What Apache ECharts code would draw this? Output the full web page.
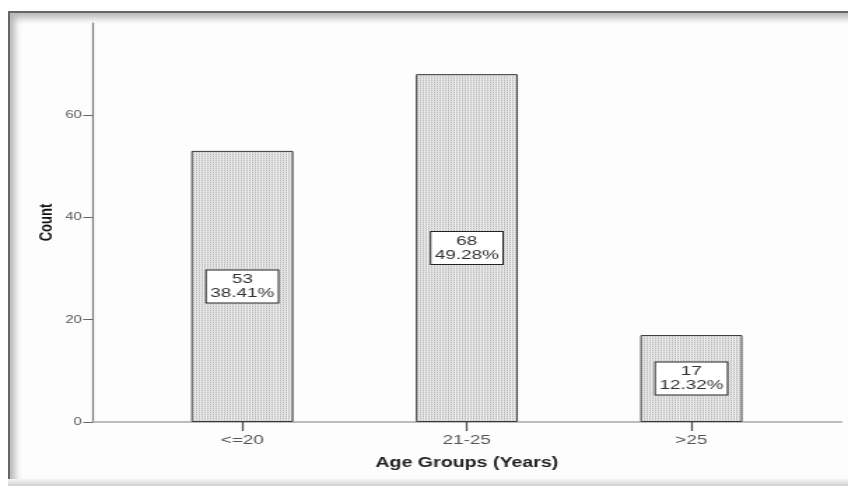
<!DOCTYPE html>
<html>
<head>
<meta charset="utf-8">
<script src="https://cdn.jsdelivr.net/npm/echarts@6/dist/echarts.min.js"></script>
<style>
  html, body { margin: 0; padding: 0; background: #fff; width: 848px; height: 486px; overflow: hidden; }
  #frame { position: absolute; left: 8px; top: 11px; width: 900px; height: 467px;
           border-left: 2px solid #666; border-top: 2px solid #666;
           box-shadow: inset 5px 5px 7px rgba(0,0,0,0.28); background: #fdfdfd; }
  #bottom { position: absolute; left: 8px; top: 479px; width: 900px; height: 7px;
            background: linear-gradient(#f6f6f6, #cfcfcf); }
  #chart { position: absolute; left: 0; top: 0; width: 606px; height: 486px;
           transform: scaleX(1.39934); transform-origin: 0 0; }
</style>
</head>
<body>
<div id="frame"></div>
<div id="bottom"></div>
<div id="chart"></div>
<script>
const categories = ['<=20', '21-25', '>25'];
const counts = [53, 68, 17];
const percents = ['38.41%', '49.28%', '12.32%'];
const yTicks = [0, 20, 40, 60];
const yMax = 78;

// dotted fill pattern
const pat = document.createElement('canvas');
pat.width = 2; pat.height = 2;
const pctx = pat.getContext('2d');
pctx.fillStyle = '#b8b8b8'; pctx.fillRect(0, 0, 1, 1);
pctx.fillStyle = '#d6d6d6'; pctx.fillRect(0, 1, 1, 1);
pctx.fillStyle = '#f2f2f2'; pctx.fillRect(1, 0, 1, 1);
pctx.fillStyle = '#e6e6e6'; pctx.fillRect(1, 1, 1, 1);

const FONT = "'Liberation Sans', Arial, sans-serif";
const chart = echarts.init(document.getElementById('chart'), null, { renderer: 'canvas' });
chart.setOption({
  animation: false,
  backgroundColor: 'transparent',
  grid: [
    { left: 66.4, right: 4.6, top: 23, bottom: 64 },
    { left: 92.9, right: 31.7, top: 23, bottom: 64 }
  ],
  xAxis: [
    { gridIndex: 0, type: 'value', min: 0, max: 1,
      axisLine: { show: true, lineStyle: { color: '#a8a8a8', width: 1.5 } },
      axisTick: { show: false }, axisLabel: { show: false }, splitLine: { show: false } },
    { gridIndex: 1, type: 'category', data: categories,
      axisLine: { show: false },
      axisTick: { show: true, alignWithLabel: true, length: 9, lineStyle: { color: '#444', width: 1.2 } },
      axisLabel: { color: '#555', fontSize: 13.5, fontFamily: FONT, margin: 11 },
      name: 'Age Groups (Years)', nameLocation: 'middle', nameGap: 34,
      nameTextStyle: { color: '#222', fontSize: 14, fontWeight: 'bold', fontFamily: FONT } }
  ],
  yAxis: [
    { gridIndex: 0, type: 'value', min: 0, max: yMax,
      axisLine: { show: true, lineStyle: { color: '#777', width: 1.2 } },
      axisTick: { show: true, length: 7, customValues: yTicks, lineStyle: { color: '#666' } },
      axisLabel: { color: '#555', fontSize: 10.5, fontFamily: FONT, margin: 8, customValues: yTicks },
      splitLine: { show: false },
      name: 'Count', nameLocation: 'middle', nameGap: 26, nameMoveOverlap: false,
      nameTextStyle: { color: '#111', fontSize: 13, fontWeight: 'bold', fontFamily: FONT } },
    { gridIndex: 1, type: 'value', min: 0, max: yMax, show: false }
  ],
  series: [{
    type: 'bar', xAxisIndex: 1, yAxisIndex: 1,
    data: counts,
    barWidth: 72.9,
    itemStyle: { color: { image: pat, repetition: 'repeat' }, borderColor: '#3a3a3a', borderWidth: 1 },
    label: {
      show: true, position: 'inside',
      formatter: p => counts[p.dataIndex] + '\n' + percents[p.dataIndex],
      color: '#333', fontSize: 13.5, lineHeight: 14, fontFamily: FONT,
      backgroundColor: '#fff', borderColor: '#222', borderWidth: 1,
      padding: [2, 2.5], align: 'center'
    }
  }]
});
</script>
</body>
</html>
